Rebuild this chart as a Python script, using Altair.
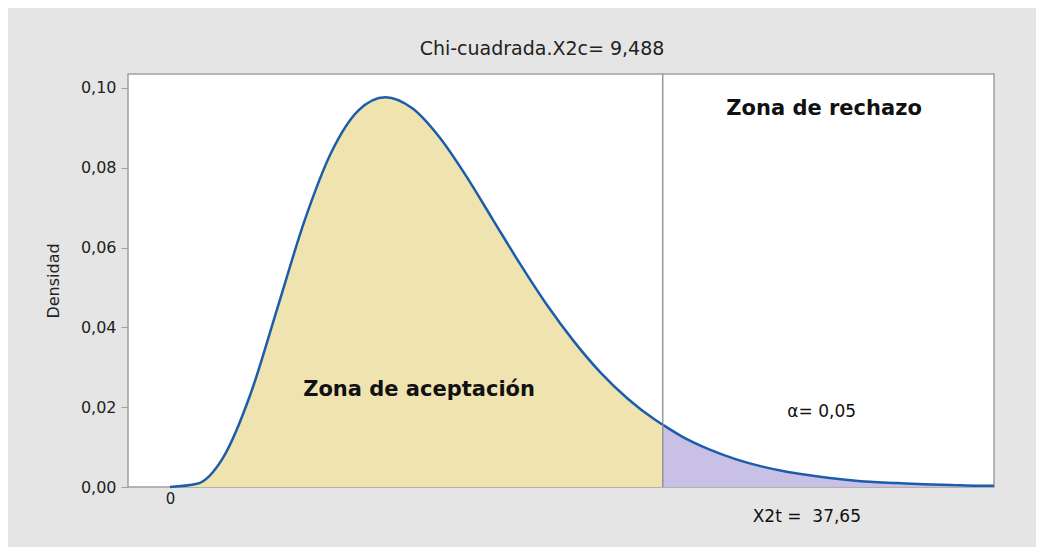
import altair as alt
import pandas as pd

# Density values
x_vals = [0, 1, 2, 3, 4, 5, 6, 7, 8, 9, 10, 11, 12, 13, 14, 15, 16, 17, 18, 18.3,
          19, 20, 21, 22, 23, 24, 25, 26, 27, 28, 29, 30, 30.6]
dens = [0.0, 0.0008, 0.0077, 0.0235, 0.0451, 0.0668, 0.0840, 0.0944, 0.0977, 0.0949,
        0.0877, 0.0779, 0.0669, 0.0559, 0.0456, 0.0365, 0.0286, 0.0221, 0.0169, 0.0156,
        0.0127, 0.0095, 0.0070, 0.0051, 0.0037, 0.0027, 0.0019, 0.0013, 0.0010, 0.0007,
        0.0005, 0.0003, 0.0003]
crit = 18.3
y_ticks = [0.0, 0.02, 0.04, 0.06, 0.08, 0.10]

notes_text = ["Zona de rechazo", "Zona de aceptación"]
notes_x = [24.29, 9.25]
notes_y = [0.0948, 0.0243]
small_text = ["α= 0,05", "X2t =\u00a0\u00a037,65"]
small_x = [24.2, 23.65]
small_y = [0.0188, -0.0075]

df = pd.DataFrame({"x": x_vals, "d": dens})
df_acc = df[df.x <= crit]
df_rej = df[df.x >= crit]

FONT = "DejaVu Sans"
xs = alt.Scale(domain=[-1.56, 30.6], nice=False, zero=False)
ys = alt.Scale(domain=[0, 0.1035], nice=False)

x_axis = alt.Axis(values=[0], ticks=False, grid=False, domain=False, labelFontSize=15,
                  labelColor="#222222", labelPadding=4, labelFont=FONT, title=None)
y_axis = alt.Axis(values=y_ticks, grid=False, domain=False, tickSize=7, tickColor="#a0a0a0",
                  labelFontSize=16, labelColor="#222222", labelPadding=5, labelFont=FONT,
                  labelExpr="replace(format(datum.value, '.2f'), '.', ',')",
                  title="Densidad", titleFont=FONT, titleFontSize=16, titleFontWeight="normal",
                  titleColor="#222222", titlePadding=19)


def enc(ch):
    return ch.encode(
        x=alt.X("x:Q", scale=xs, axis=x_axis),
        y=alt.Y("d:Q", scale=ys, axis=y_axis),
    )


area_a = enc(alt.Chart(df_acc).mark_area(color="#EFE3AF", interpolate="monotone"))
area_r = enc(alt.Chart(df_rej).mark_area(color="#C9C1E5", interpolate="monotone"))
line = enc(alt.Chart(df).mark_line(color="#1B5DAA", strokeWidth=2.5, interpolate="monotone"))
rule = alt.Chart(pd.DataFrame({"x": [crit]})).mark_rule(color="#8a8a8a", strokeWidth=1.3).encode(
    x=alt.X("x:Q", scale=xs)
)

notes = alt.Chart(pd.DataFrame({"t": notes_text, "x": notes_x, "d": notes_y})).mark_text(
    font=FONT, fontSize=21, fontWeight="bold", color="#111111", baseline="middle"
).encode(x=alt.X("x:Q", scale=xs), y=alt.Y("d:Q", scale=ys), text="t:N")

smalls = alt.Chart(pd.DataFrame({"t": small_text, "x": small_x, "d": small_y})).mark_text(
    font=FONT, fontSize=17, color="#111111", baseline="middle"
).encode(x=alt.X("x:Q", scale=xs), y=alt.Y("d:Q", scale=ys), text="t:N")

chart = alt.layer(area_a, area_r, line, rule, notes, smalls).properties(
    width=866,
    height=413,
    autosize=alt.AutoSizeParams(type="none"),
    padding={"left": 120, "top": 66, "right": 42, "bottom": 60},
    background="#e5e5e5",
    title=alt.TitleParams(
        "Chi-cuadrada.X2c= 9,488", font=FONT, fontSize=19, fontWeight="normal",
        color="#222222", anchor="middle", dx=-19, offset=14,
    ),
).configure_view(stroke="#a0a0a0", strokeWidth=1.5, fill="white")

chart.save("out.html", embed_options={"renderer": "svg", "actions": False})
